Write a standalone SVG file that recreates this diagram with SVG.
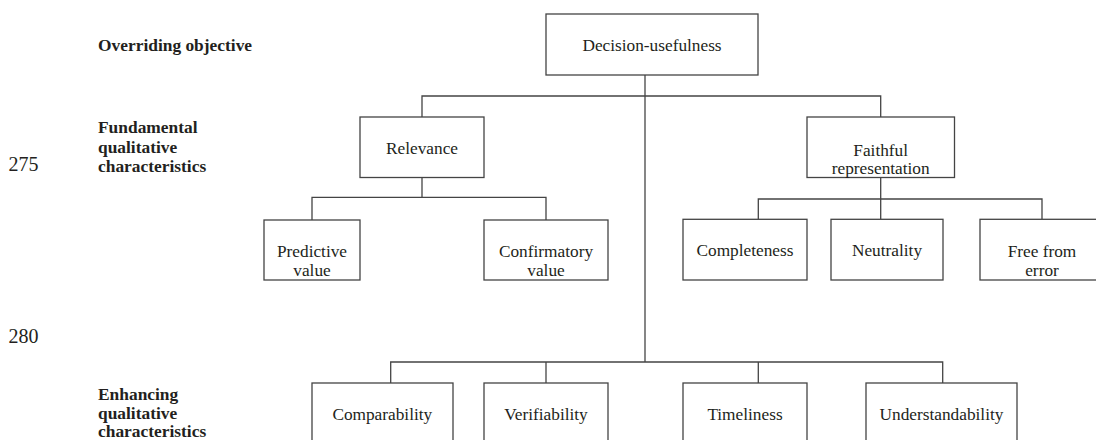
<svg xmlns="http://www.w3.org/2000/svg" width="1096" height="440" viewBox="0 0 1096 440">
<style>
  .box { fill: #ffffff; stroke: #444444; stroke-width: 1.3; }
  .wire { fill: none; stroke: #444444; stroke-width: 1.3; }
  .t { font-family: "Liberation Serif", "Times New Roman", serif; font-size: 17.3px; fill: #231f20; text-anchor: middle; }
  .lab { font-family: "Liberation Serif", "Times New Roman", serif; font-size: 17.4px; font-weight: bold; fill: #231f20; }
  .num { font-family: "Liberation Serif", "Times New Roman", serif; font-size: 20px; fill: #231f20; }
</style>
<rect width="1096" height="440" fill="#ffffff"/>

<g id="labels">
  <text class="lab" x="98" y="50.5">Overriding objective</text>
  <text class="lab" x="98" y="133">Fundamental</text>
  <text class="lab" x="98" y="152.5">qualitative</text>
  <text class="lab" x="98" y="172">characteristics</text>
  <text class="lab" x="98" y="399.5">Enhancing</text>
  <text class="lab" x="98" y="418.5">qualitative</text>
  <text class="lab" x="98" y="437.2">characteristics</text>
  <text class="num" x="8.5" y="170.7">275</text>
  <text class="num" x="8.5" y="343.3">280</text>
</g>

<g id="connectors">
  <path class="wire" d="M645,75 V362"/>
  <path class="wire" d="M422,117 V96 H880.7 V117"/>
  <path class="wire" d="M422,177 V197.3"/>
  <path class="wire" d="M312,220 V197.3 H546 V220"/>
  <path class="wire" d="M880.7,177 V219.3"/>
  <path class="wire" d="M758.3,219.3 V199 H1042 V219.3"/>
  <path class="wire" d="M390.7,383 V362 H942.7 V383"/>
  <path class="wire" d="M546,362 V383"/>
  <path class="wire" d="M758.3,362 V383"/>
</g>

<g id="decision-usefulness">
  <rect class="box" x="546" y="14" width="212" height="61"/>
  <text class="t" x="652" y="50.7">Decision-usefulness</text>
</g>
<g id="relevance">
  <rect class="box" x="360" y="117" width="124" height="60.5"/>
  <text class="t" x="422" y="153.6">Relevance</text>
</g>
<g id="faithful-representation">
  <rect class="box" x="807" y="117" width="147.5" height="60.5"/>
  <text class="t" x="880.7" y="155.5">Faithful</text>
  <text class="t" x="880.7" y="173.5">representation</text>
</g>
<g id="predictive-value">
  <rect class="box" x="264" y="220" width="96" height="60"/>
  <text class="t" x="312" y="257">Predictive</text>
  <text class="t" x="312" y="276">value</text>
</g>
<g id="confirmatory-value">
  <rect class="box" x="484" y="220" width="124" height="60"/>
  <text class="t" x="546" y="257">Confirmatory</text>
  <text class="t" x="546" y="276">value</text>
</g>
<g id="completeness">
  <rect class="box" x="683" y="219.3" width="124" height="60.7"/>
  <text class="t" x="745" y="256.4">Completeness</text>
</g>
<g id="neutrality">
  <rect class="box" x="831" y="219.3" width="112" height="60.7"/>
  <text class="t" x="887" y="256.4">Neutrality</text>
</g>
<g id="free-from-error">
  <rect class="box" x="980" y="219.3" width="124" height="60.7"/>
  <text class="t" x="1042" y="256.5">Free from</text>
  <text class="t" x="1042" y="275.5">error</text>
</g>
<g id="comparability">
  <rect class="box" x="312" y="383" width="141" height="61"/>
  <text class="t" x="382.3" y="419.6">Comparability</text>
</g>
<g id="verifiability">
  <rect class="box" x="484" y="383" width="124" height="61"/>
  <text class="t" x="546" y="419.6">Verifiability</text>
</g>
<g id="timeliness">
  <rect class="box" x="683" y="383" width="124" height="61"/>
  <text class="t" x="745" y="419.6">Timeliness</text>
</g>
<g id="understandability">
  <rect class="box" x="866" y="383" width="151" height="61"/>
  <text class="t" x="941.5" y="419.6">Understandability</text>
</g>
</svg>
